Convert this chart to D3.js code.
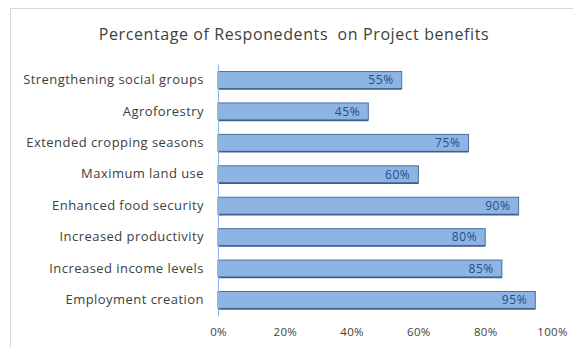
<!DOCTYPE html>
<html>
<head>
<meta charset="utf-8">
<script src="https://cdn.jsdelivr.net/npm/d3@7/dist/d3.min.js"></script>
<style>
  html, body { margin: 0; padding: 0; background: #fff; }
  svg { display: block; font-family: "Open Sans", "Noto Sans", sans-serif; }
</style>
</head>
<body>
<svg id="chart" width="573" height="348"></svg>
<script>
// Project benefits and share of respondents reporting each
const categories = [
  "Strengthening social groups",
  "Agroforestry",
  "Extended cropping seasons",
  "Maximum land use",
  "Enhanced food security",
  "Increased productivity",
  "Increased income levels",
  "Employment creation"
];
const percentages = [55, 45, 75, 60, 90, 80, 85, 95];
const tickValues = [0, 20, 40, 60, 80, 100];
const chartTitle = "Percentage of Responedents  on Project benefits";

const data = categories.map((c, i) => ({ category: c, value: percentages[i] }));

const svg = d3.select("#chart");
const margin = { left: 218, right: 21, top: 64, bottom: 32 };
const W = 573, H = 348;

// chart frame
svg.append("rect")
  .attr("x", 10.5).attr("y", 8.5)
  .attr("width", 600).attr("height", 400)
  .attr("fill", "#fff")
  .attr("stroke", "#d9d9d9");

svg.append("text")
  .attr("x", 294).attr("y", 40)
  .attr("text-anchor", "middle")
  .attr("font-size", 16)
  .attr("letter-spacing", 0.6)
  .attr("fill", "#404040")
  .style("white-space", "pre")
  .text(chartTitle);

const x = d3.scaleLinear().domain([0, 100]).range([margin.left, W - margin.right]);
const y = d3.scaleBand().domain(categories).range([margin.top, H - margin.bottom]).paddingInner(0.46).paddingOuter(0.24);

// bars
const bars = svg.append("g");
bars.selectAll("rect.bar")
  .data(data)
  .enter().append("rect")
  .attr("class", "bar")
  .attr("x", x(0))
  .attr("y", d => y(d.category))
  .attr("width", d => x(d.value) - x(0))
  .attr("height", y.bandwidth())
  .attr("fill", "#8db4e2")
  .attr("stroke", "#4a6f9e")
  .attr("stroke-width", 1);

// darker lower edge on each bar
bars.selectAll("line.shade")
  .data(data)
  .enter().append("line")
  .attr("x1", x(0))
  .attr("x2", d => x(d.value))
  .attr("y1", d => y(d.category) + y.bandwidth() + 0.5)
  .attr("y2", d => y(d.category) + y.bandwidth() + 0.5)
  .attr("stroke", "#3f5f88")
  .attr("stroke-width", 1.5);

// value labels inside bar ends
bars.selectAll("text.val")
  .data(data)
  .enter().append("text")
  .attr("class", "val")
  .attr("x", d => x(d.value) - 8)
  .attr("y", d => y(d.category) + y.bandwidth() / 2)
  .attr("dy", "0.36em")
  .attr("text-anchor", "end")
  .attr("font-size", 12)
  .attr("letter-spacing", 0.6)
  .attr("fill", "#1f4e8c")
  .text(d => d.value + "%");

// category axis
const yAxis = svg.append("g")
  .attr("transform", `translate(${margin.left},0)`)
  .call(d3.axisLeft(y).tickSize(0).tickPadding(14));
yAxis.select(".domain").attr("stroke", "#8db4e2");
yAxis.selectAll("text")
  .attr("font-size", 13)
  .attr("letter-spacing", 0.45)
  .attr("fill", "#404040")
  .attr("font-family", "Open Sans, sans-serif");

// value axis
const xAxis = svg.append("g")
  .attr("transform", `translate(0,${H - margin.bottom})`)
  .call(d3.axisBottom(x).tickValues(tickValues).tickFormat(d => d + "%").tickSize(0).tickPadding(12));
xAxis.select(".domain").remove();
xAxis.selectAll("text")
  .attr("font-size", 11.5)
  .attr("letter-spacing", 0.3)
  .attr("fill", "#404040")
  .attr("font-family", "Open Sans, sans-serif");
</script>
</body>
</html>
